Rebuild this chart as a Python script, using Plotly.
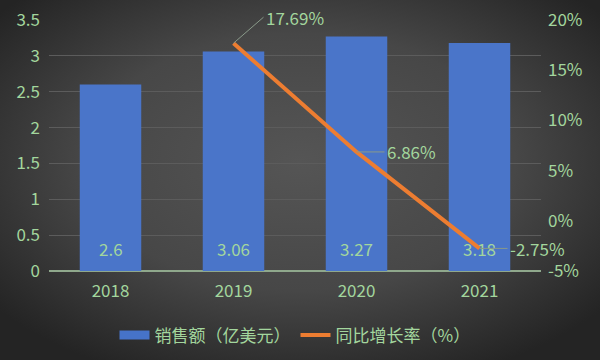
import base64
import plotly.graph_objects as go

years = ["2018", "2019", "2020", "2021"]
sales = [2.6, 3.06, 3.27, 3.18]
growth_years = ["2019", "2020", "2021"]
growth = [17.69, 6.86, -2.75]
left_ticks = [0, 0.5, 1, 1.5, 2, 2.5, 3, 3.5]
right_ticks = [-5, 0, 5, 10, 15, 20]

GREEN = "#A3D69D"
FONT = "Noto Sans CJK SC"

W, H = 600, 360
ML, MR, MT, MB = 49, 59, 20, 89
PW, PH = W - ML - MR, H - MT - MB

svg = """<svg xmlns='http://www.w3.org/2000/svg' width='600' height='360' viewBox='0 0 600 360' preserveAspectRatio='none'>
<defs><radialGradient id='g' cx='50%' cy='45%' r='65%'>
<stop offset='0%' stop-color='#555555'/><stop offset='55%' stop-color='#474747'/><stop offset='100%' stop-color='#242424'/>
</radialGradient>
</defs><rect width='600' height='360' fill='url(#g)'/></svg>"""
bg = "data:image/svg+xml;base64," + base64.b64encode(svg.encode()).decode()

fig = go.Figure()
fig.add_trace(go.Bar(
    x=years, y=sales, name="销售额（亿美元）", showlegend=False,
    marker=dict(color="#4A75C9", line=dict(width=0)), width=0.5,
))
fig.add_trace(go.Scatter(
    x=[years[0]], y=[None], mode="lines", name="销售额（亿美元）",
    line=dict(color="#4673C8", width=9), hoverinfo="skip",
))
fig.add_trace(go.Scatter(
    x=growth_years, y=growth, yaxis="y2", mode="lines", name="同比增长率（%）",
    line=dict(color="#ED7D31", width=4),
))

# bar value labels
for i, v in enumerate(sales):
    fig.add_annotation(
        x=i, y=0, xref="x", yref="y", text=f"{v:g}", showarrow=False,
        yanchor="middle", yshift=23, font=dict(color=GREEN, size=17, family=FONT),
    )

# growth labels with leader lines
offsets = [(30, -26), (28, 0), (28, 0)]
for xv, yv, (ax, ay) in zip(growth_years, growth, offsets):
    fig.add_annotation(
        x=years.index(xv), y=yv, xref="x", yref="y2", text=f"{yv:.2f}%",
        showarrow=True, arrowhead=0, arrowwidth=1, arrowcolor="#8a9a8a",
        ax=ax, ay=ay, axref="pixel", ayref="pixel", xanchor="left", yanchor="middle",
        font=dict(color=GREEN, size=17, family=FONT), standoff=0,
    )

fig.update_layout(
    width=W, height=H,
    margin=dict(l=ML, r=MR, t=MT, b=MB, autoexpand=False),
    paper_bgcolor="#3a3a3a", plot_bgcolor="rgba(0,0,0,0)",
    font=dict(family=FONT, color=GREEN),
    images=[dict(source=bg, xref="paper", yref="paper", x=-ML / PW, y=1 + MT / PH,
                 sizex=W / PW, sizey=H / PH,
                 xanchor="left", yanchor="top", sizing="stretch", layer="below")],
    xaxis=dict(type="category", categoryorder="array", categoryarray=years,
               range=[-0.5, len(years) - 0.5], autorange=False, automargin=False,
               showgrid=False, tickfont=dict(size=17, color=GREEN),
               ticks="", showline=False, zeroline=False, ticklabelstandoff=8),
    yaxis=dict(range=[0, 3.5], tickvals=left_ticks, ticktext=[f"{v:g}" for v in left_ticks],
               automargin=False,
               gridcolor="#5c5c5c", gridwidth=1, zeroline=True, zerolinecolor="#8FA88C", zerolinewidth=2,
               tickfont=dict(size=17, color=GREEN), ticklabelstandoff=8),
    yaxis2=dict(range=[-5, 20], tickvals=right_ticks, ticktext=[f"{v}%" for v in right_ticks],
                overlaying="y", side="right", showgrid=False, zeroline=False, automargin=False,
                tickfont=dict(size=17, color=GREEN), ticklabelstandoff=6),
    legend=dict(orientation="h", x=0.5, xanchor="center", y=-0.185, yanchor="top",
                font=dict(size=17, color=GREEN, family=FONT), bgcolor="rgba(0,0,0,0)"),
)
fig.write_html("out.html", config={"displayModeBar": False},
               post_script="document.body.style.margin='0';document.body.style.background='#333';")
